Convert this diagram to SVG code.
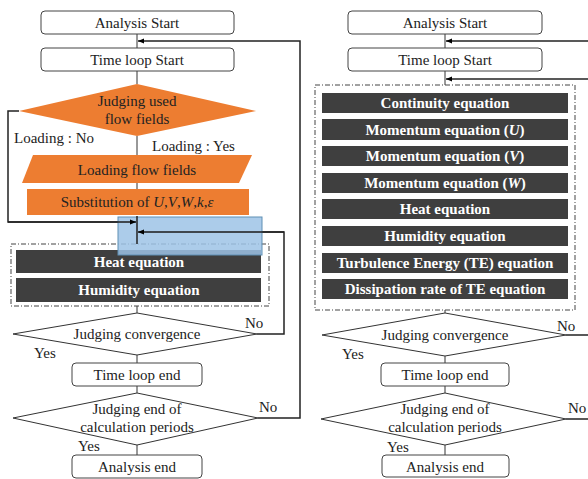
<svg xmlns="http://www.w3.org/2000/svg" width="588" height="479" viewBox="0 0 588 479" font-family="'Liberation Serif', 'DejaVu Serif', serif">
<defs>
<marker id="ah" viewBox="0 0 10 10" refX="10" refY="5" markerWidth="6" markerHeight="6" orient="auto" markerUnits="userSpaceOnUse"><path d="M0,1 L10,5 L0,9 z" fill="#000"/></marker>
</defs>
<style>
text{font-family:'Liberation Serif','DejaVu Serif',serif;font-size:15px;fill:#222;text-anchor:middle}
.lbl{text-anchor:start}
.rb{fill:#fff;stroke:#444;stroke-width:1}
.dk{fill:#3f3f3f}
.dt{fill:#fff;font-weight:bold}
.or{fill:#ed7d31}
.dia{fill:#fff;stroke:#333;stroke-width:1}
.ln{fill:none;stroke:#222;stroke-width:1.5}
.thin{fill:none;stroke:#333;stroke-width:1}
.dd{fill:none;stroke:#444;stroke-width:1;stroke-dasharray:5,2,1,2}
</style>
<rect width="588" height="479" fill="#fff"/>
<g id="connectors">
<path class="thin" d="M137,34 V48 M137,71 V84"/>
<path class="thin" d="M137,136 V155 M137,183 V189"/>
<path class="ln" d="M19,111 H8 V222 H136" marker-end="url(#ah)"/>
<path class="thin" d="M137,306 V313 M137,355 V363 M137,386 V393 M137,445 V455"/>
<path class="ln" d="M257,334 H284 V232 H138" marker-end="url(#ah)"/>
<path class="ln" d="M258,418 H300 V41 H138" marker-end="url(#ah)"/>
<path class="thin" d="M445,34 V48 M445,71 V85 M445,310 V313 M445,356 V363 M445,386 V393 M445,445 V455"/>
<path class="ln" d="M588,41 H446" marker-end="url(#ah)"/>
<path class="ln" d="M588,79 H446" marker-end="url(#ah)"/>
<path class="ln" d="M566,335 H588"/>
<path class="ln" d="M566,419 H588"/>
</g>
<g id="L_start"><rect class="rb" x="41" y="11" width="193" height="23" rx="4"/><text x="137" y="28">Analysis Start</text></g>
<g id="L_tls"><rect class="rb" x="41" y="48" width="193" height="23" rx="4"/><text x="137" y="65">Time loop Start</text></g>
<g id="L_judge_flow"><polygon class="or" points="19,111 137,84 256,111 137,136"/><text x="137" y="106">Judging used</text><text x="137" y="124">flow fields</text></g>
<text class="lbl" x="14" y="143">Loading : No</text>
<text class="lbl" x="152" y="151">Loading : Yes</text>
<g id="L_loading"><polygon class="or" points="33,155 252,155 239,183 22,183"/><text x="137" y="175">Loading flow fields</text></g>
<g id="L_subst"><rect class="or" x="27" y="189" width="222" height="26"/><text x="137" y="207">Substitution of <tspan font-style="italic">U</tspan>,<tspan font-style="italic">V</tspan>,<tspan font-style="italic">W</tspan>,<tspan font-style="italic">k</tspan>,<tspan font-style="italic">ε</tspan></text></g>
<g id="L_eqs">
<rect class="dd" x="11" y="244" width="258" height="62"/>
<rect class="dk" x="16" y="250" width="245" height="23"/><text class="dt" x="139" y="267">Heat equation</text>
<rect class="dk" x="16" y="278" width="245" height="24"/><text class="dt" x="139" y="295">Humidity equation</text>
</g>
<g id="L_highlight"><rect x="118" y="217" width="144" height="38" fill="#9dc3e6" fill-opacity="0.85" stroke="#5f8fb4" stroke-width="1"/><path class="ln" d="M8,222 H136" marker-end="url(#ah)"/><path class="ln" d="M284,232 H138" marker-end="url(#ah)"/><path class="ln" d="M137,216 V244"/></g>
<g id="L_conv"><polygon class="dia" points="13,334 137,313 257,334 137,355"/><text x="137" y="339">Judging convergence</text></g>
<text class="lbl" x="245" y="328">No</text>
<text class="lbl" x="34" y="358">Yes</text>
<g id="L_tle"><rect class="rb" x="72" y="363" width="130" height="23" rx="4"/><text x="137" y="380">Time loop end</text></g>
<g id="L_period"><polygon class="dia" points="13,418 137,393 258,418 137,445"/><text x="137" y="414">Judging end of</text><text x="137" y="432">calculation periods</text></g>
<text class="lbl" x="259" y="412">No</text>
<text class="lbl" x="78" y="451">Yes</text>
<g id="L_end"><rect class="rb" x="72" y="455" width="130" height="23" rx="4"/><text x="137" y="472">Analysis end</text></g>

<g id="R_start"><rect class="rb" x="348" y="11" width="194" height="23" rx="4"/><text x="445" y="28">Analysis Start</text></g>
<g id="R_tls"><rect class="rb" x="348" y="48" width="194" height="23" rx="4"/><text x="445" y="65">Time loop Start</text></g>
<g id="R_eqs">
<rect class="dd" x="315" y="85" width="260" height="225"/>
<rect class="dk" x="322" y="93" width="246" height="20"/><text class="dt" x="445" y="108">Continuity equation</text>
<rect class="dk" x="322" y="119" width="246" height="21"/><text class="dt" x="445" y="135">Momentum equation (<tspan font-style="italic">U</tspan>)</text>
<rect class="dk" x="322" y="146" width="246" height="20"/><text class="dt" x="445" y="161">Momentum equation (<tspan font-style="italic">V</tspan>)</text>
<rect class="dk" x="322" y="173" width="246" height="20"/><text class="dt" x="445" y="188">Momentum equation (<tspan font-style="italic">W</tspan>)</text>
<rect class="dk" x="322" y="199" width="246" height="20"/><text class="dt" x="445" y="214">Heat equation</text>
<rect class="dk" x="322" y="226" width="246" height="20"/><text class="dt" x="445" y="241">Humidity equation</text>
<rect class="dk" x="322" y="253" width="246" height="20"/><text class="dt" x="445" y="268">Turbulence Energy (TE) equation</text>
<rect class="dk" x="322" y="279" width="246" height="20"/><text class="dt" x="445" y="294">Dissipation rate of TE equation</text>
</g>
<g id="R_conv"><polygon class="dia" points="322,335 445,313 566,335 445,356"/><text x="445" y="340">Judging convergence</text></g>
<text class="lbl" x="557" y="331">No</text>
<text class="lbl" x="342" y="359">Yes</text>
<g id="R_tle"><rect class="rb" x="381" y="363" width="128" height="23" rx="4"/><text x="445" y="380">Time loop end</text></g>
<g id="R_period"><polygon class="dia" points="321,419 445,393 566,419 445,445"/><text x="445" y="414">Judging end of</text><text x="445" y="432">calculation periods</text></g>
<text class="lbl" x="568" y="413">No</text>
<text class="lbl" x="387" y="452">Yes</text>
<g id="R_end"><rect class="rb" x="382" y="455" width="127" height="22" rx="4"/><text x="445" y="472">Analysis end</text></g>
</svg>
